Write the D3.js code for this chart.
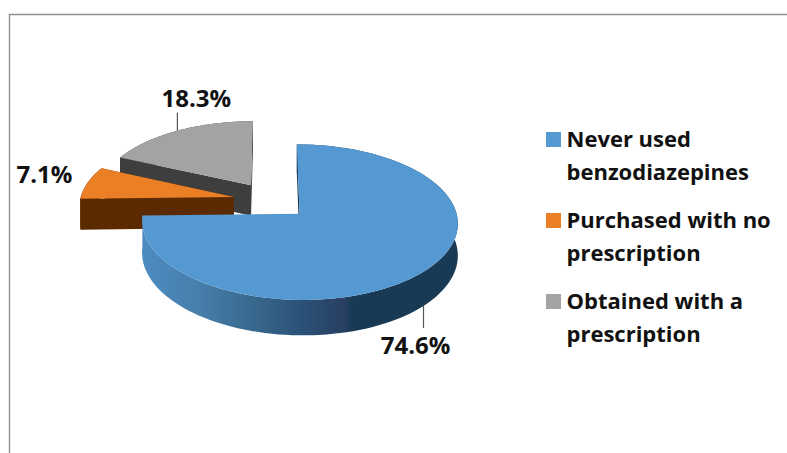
<!DOCTYPE html>
<html>
<head>
<meta charset="utf-8">
<script src="https://cdnjs.cloudflare.com/ajax/libs/d3/7.8.5/d3.min.js"></script>
<style>
html,body{margin:0;padding:0;background:#fff;}
svg{display:block;}
text{font-family:"Open Sans",sans-serif;font-weight:700;fill:#111;}
</style>
</head>
<body>
<svg id="chart" width="787" height="453"></svg>
<script>
// Survey shares, clockwise from twelve o'clock
const categories = ["Never used benzodiazepines", "Purchased with no prescription", "Obtained with a prescription"];
const shares = [74.6, 7.1, 18.3];
const shareLabels = ["74.6%", "7.1%", "18.3%"];
const legendLines = [["Never used", "benzodiazepines"], ["Purchased with no", "prescription"], ["Obtained with a", "prescription"]];

const topColors = ["#5499d2", "#ea7f26", "#a3a3a3"];
const wallColors = ["#183a55", "#5c2a00", "#3e3e3e"];

// Tilted-disc projection of the exploded pie
const view = {cx: 271.5, cy: 200.5, rx: 154, ry: 74, perspective: 0.107, depth: 31, explode: 0.25};
const svg = d3.select("#chart");

function project(u, v, drop) {
  const s = 1 / (1 - view.perspective * v);
  return [view.cx + view.rx * u * s, view.cy + view.ry * v * s + (drop ? view.depth * s : 0)];
}
const arcs = d3.pie().sort(null)(shares);
const midAngle = a => (a.startAngle + a.endAngle) / 2;
const apexOf = a => [Math.sin(midAngle(a)) * view.explode, -Math.cos(midAngle(a)) * view.explode];
function rimPoint(a, t, drop) {
  const [ax, ay] = apexOf(a);
  return project(ax + Math.sin(t), ay - Math.cos(t), drop);
}
function apexPoint(a, drop) {
  const [ax, ay] = apexOf(a);
  return project(ax, ay, drop);
}
const rimAngles = (a, from, to) => d3.range(0, 121).map(i => d3.interpolateNumber(from, to)(i / 120));
const path = d3.line();

// Blue wall shading runs from mid blue at the left to deep navy at the right
const grad = svg.append("defs").append("linearGradient")
  .attr("id", "blueWall").attr("gradientUnits", "userSpaceOnUse")
  .attr("x1", 142).attr("x2", 458).attr("y1", 0).attr("y2", 0);
[[0, "#4d8cc2"], [0.18, "#477eaa"], [0.34, "#3a6a8f"], [0.5, "#2b5278"], [0.645, "#283f62"], [0.665, "#183a55"], [1, "#183a55"]]
  .forEach(([o, c]) => grad.append("stop").attr("offset", o).attr("stop-color", c));

// Frame around the plot, open on the right and bottom
svg.append("path").attr("d", path([[9.5, 453], [9.5, 14.5], [787, 14.5]]))
  .attr("fill", "none").attr("stroke", "#8f8f8f").attr("stroke-width", 1.4);

// Far slices first so nearer ones overlap them
[2, 1, 0].forEach(i => {
  const a = arcs[i];
  const g = svg.append("g");
  const rim = rimAngles(a, a.startAngle, a.endAngle);
  const wallFill = i === 0 ? "url(#blueWall)" : wallColors[i];

  // Outer rim wall
  const wall = rim.map(t => rimPoint(a, t, false)).concat(rim.slice().reverse().map(t => rimPoint(a, t, true)));
  g.append("path").attr("d", path(wall) + "Z").attr("fill", wallFill);

  // Cut faces that look toward the viewer
  const cut = t => [apexPoint(a, false), rimPoint(a, t, false), rimPoint(a, t, true), apexPoint(a, true)];
  g.append("path").attr("d", path(cut(a.startAngle)) + "Z").attr("fill", wallColors[i]);
  if (i !== 0) g.append("path").attr("d", path(cut(a.endAngle)) + "Z").attr("fill", wallColors[i]);

  // Top face
  const face = [apexPoint(a, false)].concat(rim.map(t => rimPoint(a, t, false)));
  g.append("path").attr("d", path(face) + "Z").attr("fill", topColors[i]);
});

// Leader lines and share labels
const leaderRise = [22, 0, -18];
const labelAnchor = [[-8, 48], [0, 0], [19, -24]];
arcs.forEach((a, i) => {
  const m = midAngle(a);
  const p = rimPoint(a, m, i === 0);
  if (leaderRise[i]) {
    svg.append("line").attr("x1", p[0]).attr("y1", p[1]).attr("x2", p[0]).attr("y2", p[1] + leaderRise[i])
      .attr("stroke", "#555").attr("stroke-width", 1.2);
  }
  const lx = i === 1 ? 44.5 : p[0] + labelAnchor[i][0];
  const ly = i === 1 ? 183 : p[1] + labelAnchor[i][1];
  svg.append("text").attr("x", lx).attr("y", ly).attr("text-anchor", "middle")
    .attr("font-size", 24).text(shareLabels[i]);
});

// Legend
const legendY = d3.scaleLinear().domain([0, 2]).range([132, 294]);
categories.forEach((c, i) => {
  const y = legendY(i);
  svg.append("rect").attr("x", 546).attr("y", y).attr("width", 15).attr("height", 15).attr("fill", topColors[i]);
  legendLines[i].forEach((line, j) => {
    svg.append("text").attr("x", 566.5).attr("y", y + 15 + j * 33).attr("font-size", 22).text(line);
  });
});
</script>
</body>
</html>
